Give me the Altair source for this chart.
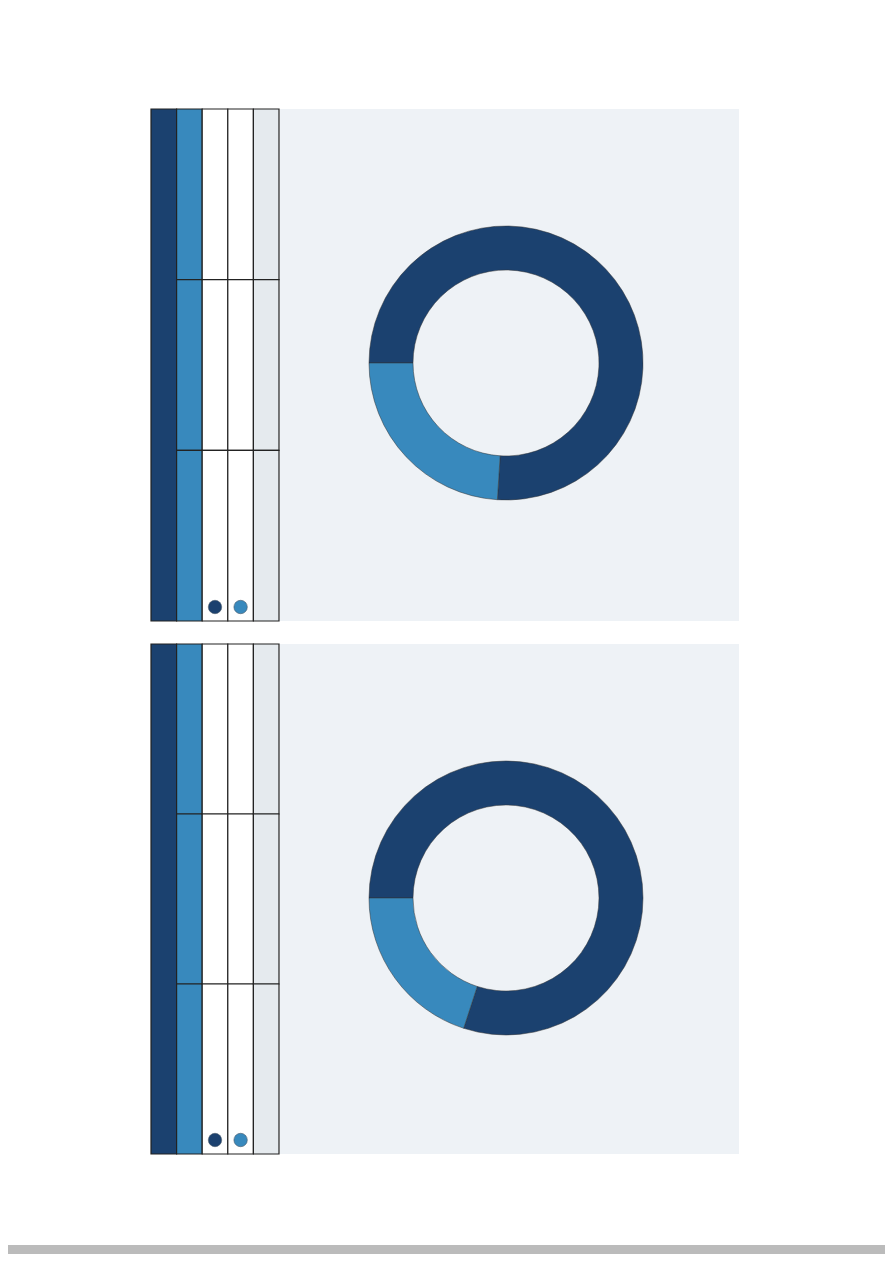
import altair as alt
import pandas as pd

# ---- data ----
slice_names = ["Part A", "Part B"]
donut1_values = [76, 24]
donut2_values = [80, 20]
slice_colors = ["#1b416f", "#3889bd"]

table_columns = ["c1", "c2", "c3", "c4", "c5"]
table_column_colors = ["#1b416f", "#3889bd", "#ffffff", "#ffffff", "#e5eaee"]
table_rows = ["r1", "r2", "r3"]
marker_columns = ["c3", "c4"]
marker_colors = ["#1b416f", "#3889bd"]

BG = "#eef2f6"
BAR = "#bbbbbb"


def table_panel(h):
    cells = pd.DataFrame(
        [{"col": c, "row": r} for c in table_columns[1:] for r in table_rows]
    )
    first = pd.DataFrame({"col": [table_columns[0]]})
    marks = pd.DataFrame({"col": marker_columns, "fill": marker_colors})
    xs = alt.X("col:N", scale=alt.Scale(domain=table_columns, paddingInner=0, paddingOuter=0), axis=None)
    col_color = alt.Color("col:N", scale=alt.Scale(domain=table_columns, range=table_column_colors), legend=None)
    base_first = alt.Chart(first).mark_rect(stroke="#222222", strokeWidth=1.2).encode(x=xs, color=col_color)
    base_cells = alt.Chart(cells).mark_rect(stroke="#222222", strokeWidth=1.2).encode(
        x=xs,
        y=alt.Y("row:N", scale=alt.Scale(domain=table_rows, paddingInner=0, paddingOuter=0), axis=None),
        color=col_color,
    )
    dots = alt.Chart(marks).mark_circle(size=180, opacity=1, stroke="#4a5a6a", strokeWidth=0.6).encode(
        x=xs, y=alt.value(h - 14), fill=alt.Fill("fill:N", scale=None)
    )
    return alt.layer(base_first, base_cells, dots).properties(width=128, height=h)


def donut_panel(values, h):
    df = pd.DataFrame({"name": slice_names, "value": values, "ord": list(range(len(values)))})
    arc = alt.Chart(df).mark_arc(outerRadius=137, innerRadius=93, stroke="#333333", strokeWidth=0.5).encode(
        theta=alt.Theta("value:Q", stack=True, scale=alt.Scale(range=[4.71239, 10.99557])),
        color=alt.Color("name:N", scale=alt.Scale(domain=slice_names, range=slice_colors), legend=None),
        order=alt.Order("ord:Q"),
        x=alt.value(226),
        y=alt.value(254),
    )
    return arc.properties(width=459, height=h, view=alt.ViewBackground(fill=BG, strokeWidth=0))


def spacer(w, h):
    return alt.Chart(pd.DataFrame({"a": [0]})).mark_rect(opacity=0).encode(
        x=alt.value(0), x2=alt.value(w), y=alt.value(0), y2=alt.value(h)
    ).properties(width=w, height=h)


row1 = alt.hconcat(spacer(142, 512), table_panel(512), donut_panel(donut1_values, 512), spacing=0)
row2 = alt.hconcat(spacer(142, 510), table_panel(510), donut_panel(donut2_values, 510), spacing=0)
panels = alt.vconcat(row1, row2, spacing=21)

bar = alt.Chart(pd.DataFrame({"a": [0]})).mark_rect(color=BAR).encode(
    x=alt.value(0), x2=alt.value(877), y=alt.value(0), y2=alt.value(9)
).properties(width=877, height=9)

chart = alt.vconcat(panels, bar, spacing=90).properties(
    padding={"left": 0, "top": 100, "right": 0, "bottom": 0}
).configure_view(strokeWidth=0).configure_concat(spacing=0)

chart.save("out.html", embed_options={"renderer": "svg", "actions": False})
